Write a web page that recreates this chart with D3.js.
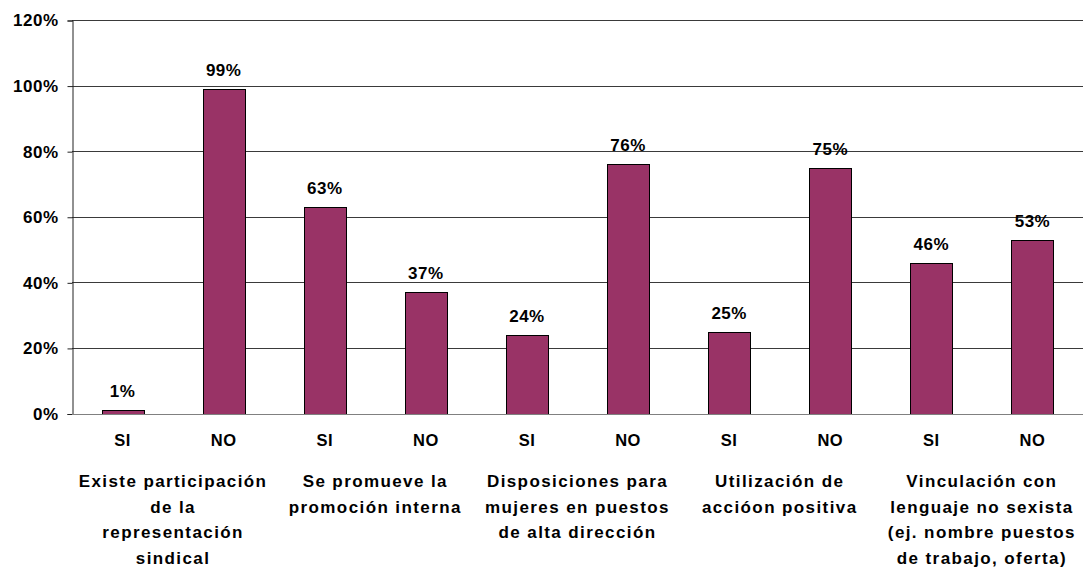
<!DOCTYPE html>
<html>
<head>
<meta charset="utf-8">
<script src="https://cdn.jsdelivr.net/npm/d3@7/dist/d3.min.js"></script>
<style>
  html, body { margin: 0; padding: 0; background: #fff; }
  svg { display: block; font-family: "Liberation Sans", Arial, sans-serif; font-weight: bold; }
</style>
</head>
<body>
<div id="chart"></div>
<script>
// data
var groups = [
  ['Existe participación', 'de la', 'representación', 'sindical'],
  ['Se promueve la', 'promoción interna'],
  ['Disposiciones para', 'mujeres en puestos', 'de alta dirección'],
  ['Utilización de', 'accióon positiva'],
  ['Vinculación con', 'lenguaje no sexista', '(ej. nombre puestos', 'de trabajo, oferta)']
];
var answers = ['SI', 'NO', 'SI', 'NO', 'SI', 'NO', 'SI', 'NO', 'SI', 'NO'];
var values = [0.01, 0.99, 0.63, 0.37, 0.24, 0.76, 0.25, 0.75, 0.46, 0.53];
var yTicks = [0, 0.2, 0.4, 0.6, 0.8, 1.0, 1.2];

var W = 1084, H = 567;
var mLeft = 72, mRight = 1083, mTop = 20, mBottom = 413.5;

var svg = d3.select('#chart').append('svg')
  .attr('width', W).attr('height', H);

var x = d3.scaleBand()
  .domain(d3.range(values.length))
  .range([mLeft, mRight])
  .paddingInner(0.585)
  .paddingOuter(0.2925);

var xg = d3.scaleBand()
  .domain(d3.range(groups.length))
  .range([mLeft, mRight]);

var y = d3.scaleLinear().domain([0, 1.2]).range([mBottom, mTop]);

var pct = d3.format('.0%');

// gridlines
svg.append('g').selectAll('line').data(yTicks.filter(function (d) { return d > 0; })).join('line')
  .attr('x1', mLeft).attr('x2', mRight)
  .attr('y1', function (d) { return Math.round(y(d)) + 0.5; })
  .attr('y2', function (d) { return Math.round(y(d)) + 0.5; })
  .attr('stroke', '#3a3a3a').attr('stroke-width', 1);

// y axis
var yAxis = svg.append('g')
  .attr('transform', 'translate(' + (mLeft + 0.5) + ',0.5)')
  .call(d3.axisLeft(y).tickValues(yTicks).tickFormat(pct).tickSize(5).tickPadding(9));
yAxis.select('.domain').attr('stroke', '#222');
yAxis.selectAll('.tick line').attr('stroke', '#222');
yAxis.selectAll('.tick text')
  .attr('font-size', 17).attr('fill', '#000')
  .attr('font-family', '"Liberation Sans", Arial, sans-serif').attr('font-weight', 'bold')
  .style('letter-spacing', '0.5px');

// bars
svg.append('g').selectAll('rect').data(values).join('rect')
  .attr('x', function (d, i) { return Math.round(x(i)) + 0.5; })
  .attr('y', function (d) { return Math.round(y(d)) + 0.5; })
  .attr('width', Math.round(x.bandwidth()))
  .attr('height', function (d) { return Math.round(y(0)) - Math.round(y(d)); })
  .attr('fill', '#993366')
  .attr('stroke', '#000').attr('stroke-width', 1);

// x baseline
svg.append('line')
  .attr('x1', mLeft).attr('x2', mRight)
  .attr('y1', Math.round(mBottom) + 0.5).attr('y2', Math.round(mBottom) + 0.5)
  .attr('stroke', '#808080').attr('stroke-width', 1.2);

// value labels
svg.append('g').selectAll('text').data(values).join('text')
  .attr('x', function (d, i) { return x(i) + x.bandwidth() / 2; })
  .attr('y', function (d) { return y(d) - 13; })
  .attr('text-anchor', 'middle')
  .attr('font-size', 17)
  .style('letter-spacing', '0.5px')
  .text(function (d) { return pct(d); });

// SI / NO labels
svg.append('g').selectAll('text').data(answers).join('text')
  .attr('x', function (d, i) { return x(i) + x.bandwidth() / 2; })
  .attr('y', 446)
  .attr('text-anchor', 'middle')
  .attr('font-size', 16.5)
  .style('letter-spacing', '0.5px')
  .text(function (d) { return d; });

// group labels
var gl = svg.append('g').selectAll('text').data(groups).join('text')
  .attr('x', function (d, i) { return xg(i) + xg.bandwidth() / 2; })
  .attr('y', 487)
  .attr('text-anchor', 'middle')
  .attr('font-size', 17)
  .style('letter-spacing', '1.4px');
gl.selectAll('tspan').data(function (d) { return d; }).join('tspan')
  .attr('x', function () { return this.parentNode.getAttribute('x'); })
  .attr('dy', function (d, i) { return i === 0 ? 0 : 25.7; })
  .text(function (d) { return d; });
</script>
</body>
</html>
